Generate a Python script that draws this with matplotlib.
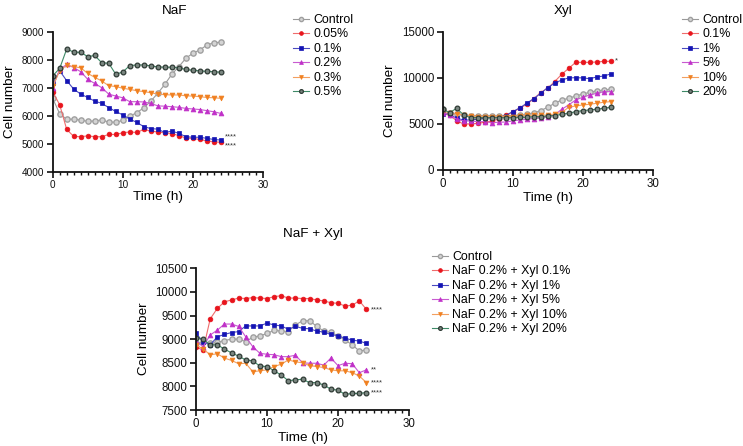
import matplotlib
matplotlib.use("Agg")
import matplotlib.pyplot as plt
from matplotlib.ticker import MultipleLocator

plt.rcParams['font.family'] = ['Liberation Sans', 'DejaVu Sans']

hours = list(range(25))

# ---- NaF panel ----
naf_labels = ["Control", "0.05%", "0.1%", "0.2%", "0.3%", "0.5%"]
naf_control = [6620, 6070, 5870, 5880, 5840, 5800, 5810, 5850, 5770, 5770, 5830, 5980, 6110,
               6280, 6520, 6800, 7120, 7480, 7750, 8050, 8230, 8350, 8520, 8610, 8620]
naf_005 = [6850, 6390, 5510, 5260, 5250, 5280, 5250, 5250, 5330, 5330, 5390, 5420, 5400,
           5510, 5450, 5420, 5390, 5360, 5290, 5200, 5190, 5150, 5100, 5070, 5050]
naf_01 = [7150, 7600, 7250, 6950, 6770, 6650, 6520, 6440, 6290, 6150, 6030, 5880, 5760,
          5610, 5540, 5520, 5400, 5450, 5370, 5250, 5230, 5230, 5190, 5150, 5130]
naf_02 = [7000, 7650, 7830, 7720, 7570, 7300, 7150, 7000, 6770, 6700, 6640, 6500, 6500,
          6490, 6440, 6350, 6340, 6320, 6300, 6260, 6240, 6220, 6180, 6140, 6080]
naf_03 = [7050, 7600, 7800, 7750, 7710, 7510, 7370, 7240, 7070, 7040, 6980, 6940, 6890,
          6860, 6820, 6770, 6750, 6740, 6740, 6710, 6700, 6680, 6650, 6640, 6620]
naf_05 = [7420, 7690, 8380, 8270, 8260, 8110, 8150, 7890, 7870, 7480, 7560, 7790, 7810,
          7810, 7780, 7740, 7730, 7730, 7710, 7650, 7620, 7600, 7580, 7570, 7550]
naf_stars = {"0.05%": "****", "0.1%": "****"}

# ---- Xyl panel ----
xyl_labels = ["Control", "0.1%", "1%", "5%", "10%", "20%"]
xyl_control = [6580, 6220, 6070, 5960, 5890, 5890, 5890, 5890, 5860, 5860, 5890, 5960, 6040,
               6180, 6430, 6800, 7230, 7590, 7770, 8020, 8240, 8420, 8570, 8670, 8750]
xyl_01 = [6140, 5960, 5310, 4990, 4990, 5060, 5170, 5310, 5490, 5960, 6250, 6690, 7120,
          7700, 8390, 8860, 9580, 10370, 11020, 11670, 11670, 11670, 11710, 11780, 11780]
xyl_1 = [6100, 6030, 5600, 5420, 5420, 5490, 5600, 5710, 5710, 5890, 6330, 6720, 7230,
         7730, 8310, 8930, 9400, 9760, 9980, 10010, 9980, 9900, 10080, 10190, 10410]
xyl_5 = [6220, 5960, 5490, 5310, 5310, 5240, 5240, 5130, 5170, 5200, 5310, 5420, 5490,
         5570, 5670, 5780, 5960, 6580, 7050, 7590, 7880, 8130, 8310, 8490, 8490]
xyl_10 = [6400, 6140, 6070, 5960, 5860, 5780, 5780, 5780, 5780, 5780, 5780, 5860, 5930,
          5930, 5960, 5960, 6070, 6220, 6800, 6940, 7050, 7120, 7230, 7340, 7410]
xyl_20 = [6580, 6220, 6690, 5960, 5670, 5670, 5670, 5670, 5670, 5670, 5670, 5710, 5710,
          5780, 5780, 5860, 5890, 6040, 6140, 6330, 6430, 6510, 6580, 6690, 6790]
xyl_stars = {"0.1%": "*"}

# ---- NaF + Xyl panel ----
mix_labels = ["Control", "NaF 0.2% + Xyl 0.1%", "NaF 0.2% + Xyl 1%", "NaF 0.2% + Xyl 5%",
              "NaF 0.2% + Xyl 10%", "NaF 0.2% + Xyl 20%"]
mix_control = [8910, 8930, 8910, 8930, 8970, 9000, 9000, 8950, 9040, 9070, 9120, 9190, 9170,
               9160, 9300, 9390, 9390, 9270, 9170, 9150, 9070, 8980, 8880, 8750, 8770]
mix_01 = [8830, 8770, 9430, 9650, 9790, 9830, 9870, 9860, 9880, 9870, 9860, 9900, 9920,
          9870, 9870, 9860, 9860, 9830, 9810, 9770, 9760, 9700, 9720, 9810, 9630]
mix_1 = [9120, 8950, 8880, 9050, 9100, 9140, 9160, 9280, 9280, 9280, 9340, 9300, 9280,
         9210, 9270, 9230, 9220, 9170, 9150, 9100, 9070, 9020, 8980, 8960, 8910]
mix_5 = [8960, 8840, 9090, 9190, 9320, 9320, 9270, 9050, 8840, 8700, 8680, 8670, 8630,
         8630, 8660, 8500, 8490, 8490, 8450, 8600, 8440, 8490, 8480, 8290, 8350]
mix_10 = [8880, 8790, 8670, 8690, 8600, 8550, 8480, 8490, 8310, 8330, 8350, 8420, 8470,
          8560, 8520, 8500, 8440, 8420, 8400, 8350, 8330, 8330, 8290, 8220, 8080]
mix_20 = [9020, 9000, 8880, 8880, 8790, 8710, 8640, 8560, 8540, 8430, 8420, 8330, 8240,
          8120, 8140, 8150, 8080, 8080, 8030, 7940, 7920, 7830, 7850, 7850, 7870]
mix_stars = {"NaF 0.2% + Xyl 0.1%": "****", "NaF 0.2% + Xyl 5%": "**",
             "NaF 0.2% + Xyl 10%": "****", "NaF 0.2% + Xyl 20%": "****"}

# styles (marker, marker face, marker edge, line colour)
styles = [
    dict(marker='o', mfc='#d4d4d4', mec='#a0a0a0', color='#9a9a9a', ms=3.8, mew=1.0),
    dict(marker='o', mfc='#e8141c', mec='#e8141c', color='#ef6d6d', ms=3.4, mew=0.5),
    dict(marker='s', mfc='#1414b4', mec='#1414b4', color='#4a4ac0', ms=3.2, mew=0.5),
    dict(marker='^', mfc='#c030c8', mec='#c030c8', color='#c85ad0', ms=3.5, mew=0.5),
    dict(marker='v', mfc='#f08020', mec='#f08020', color='#f3a060', ms=3.5, mew=0.5),
    dict(marker='o', mfc='#7a8680', mec='#2e3a34', color='#3f8a68', ms=3.4, mew=0.9),
]

fig = plt.figure(figsize=(7.43, 4.46), dpi=100)


def make_panel(rect, series, labels, stars, ylim, yticks, title, title_x, title_y,
               leg_anchor, tick_fs, star_offsets=None):
    star_offsets = star_offsets or {}
    ax = fig.add_axes(rect)
    lines = []
    for vals, lab, st in zip(series, labels, styles):
        ln, = ax.plot(hours, vals, linestyle='-', linewidth=0.8, label=lab,
                      marker=st['marker'], markerfacecolor=st['mfc'],
                      markeredgecolor=st['mec'], color=st['color'],
                      markersize=st['ms'], markeredgewidth=st['mew'])
        lines.append(ln)
        if lab in stars:
            ax.annotate(stars[lab], xy=(24.6, vals[-1]),
                        xytext=(0, star_offsets.get(lab, 0)), textcoords='offset points',
                        fontsize=5.5, color='#333333', va='center', ha='left')
    ax.set_xlim(0, 30)
    ax.set_ylim(*ylim)
    ax.set_xticks([0, 10, 20, 30])
    ax.xaxis.set_minor_locator(MultipleLocator(1))
    ax.set_yticks(yticks)
    for s in ['top', 'right']:
        ax.spines[s].set_visible(False)
    for s in ['left', 'bottom']:
        ax.spines[s].set_linewidth(1.3)
        ax.spines[s].set_color('#111111')
    ax.tick_params(which='major', direction='out', length=4, width=1.2,
                   labelsize=tick_fs, colors='#111111', pad=2)
    ax.tick_params(which='minor', direction='out', length=2.5, width=1.0,
                   colors='#111111')
    ax.set_xlabel("Time (h)", fontsize=9.7, labelpad=1)
    ax.set_ylabel("Cell number", fontsize=9.7, labelpad=4)
    fig.text(title_x, title_y, title, fontsize=9.7, ha='center', va='center')
    fig.legend(handles=lines, labels=labels, loc='upper left',
               bbox_to_anchor=leg_anchor, frameon=False, fontsize=8.9,
               handlelength=1.3, handletextpad=0.35, labelspacing=0.2,
               borderaxespad=0, markerscale=0.8)
    return ax


make_panel([0.0709, 0.615, 0.283, 0.314],
           [naf_control, naf_005, naf_01, naf_02, naf_03, naf_05],
           naf_labels, naf_stars, (4000, 9000), [4000, 5000, 6000, 7000, 8000, 9000],
           "NaF", 175 / 743, 1 - 11 / 446, (288 / 743, 1 - 9 / 446), 7.2,
           star_offsets={"0.1%": 2.5, "0.05%": -2.5})

make_panel([0.5958, 0.619, 0.2826, 0.310],
           [xyl_control, xyl_01, xyl_1, xyl_5, xyl_10, xyl_20],
           xyl_labels, xyl_stars, (0, 15000), [0, 5000, 10000, 15000],
           "Xyl", 563 / 743, 1 - 11 / 446, (677 / 743, 1 - 9 / 446), 8.3)

make_panel([0.2638, 0.0807, 0.2867, 0.3177],
           [mix_control, mix_01, mix_1, mix_5, mix_10, mix_20],
           mix_labels, mix_stars, (7500, 10500),
           [7500, 8000, 8500, 9000, 9500, 10000, 10500],
           "NaF + Xyl", 313 / 743, 1 - 234 / 446, (427 / 743, 1 - 246 / 446), 8.3)

fig.savefig("out.png", dpi=100)
